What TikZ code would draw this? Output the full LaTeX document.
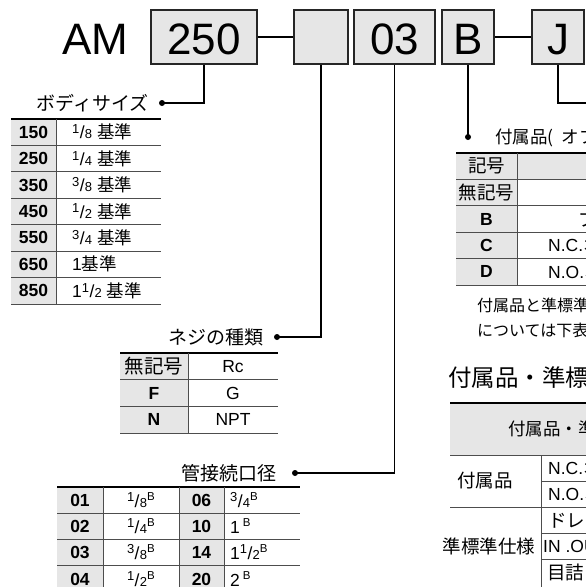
\documentclass[tikz,border=0pt]{standalone}
\usepackage{fontspec}
\setmainfont{Liberation Sans}
\newfontfamily\jp{Noto Sans CJK JP}
\usepackage{tikz}
\usetikzlibrary{calc}

\definecolor{cellgray}{HTML}{E6E6E6}
\definecolor{rulegray}{HTML}{4D4D4D}

% small fractions and the B (bore) mark
\newcommand{\fr}[2]{\raisebox{.3em}{\fontsize{13}{13}\selectfont #1}\kern.02em/\kern.02em{\fontsize{13}{13}\selectfont #2}}
\newcommand{\sB}{\raisebox{.37em}{\fontsize{11.5}{11.5}\selectfont B}}

\tikzset{
  codebox/.style={draw=black!85, line width=1.6pt, fill=cellgray, minimum height=54pt,
    inner sep=0pt, text height=35.5pt, text depth=0pt, font=\fontsize{44}{44}\selectfont},
  lead/.style={line width=1.8pt},
  ttl/.style={inner sep=0pt, font=\jp\fontsize{19}{19}\selectfont},
  cell/.style={inner sep=0pt, font=\fontsize{17.5}{17.5}\selectfont},
  key/.style={inner sep=0pt, font=\bfseries\fontsize{17.5}{17.5}\selectfont},
  jkey/.style={inner sep=0pt, font=\jp\fontsize{18.5}{18.5}\selectfont},
  toprule/.style={line width=2.2pt},
  midrule/.style={line width=.9pt, rulegray},
}

\begin{document}
\begin{tikzpicture}[x=1pt, y=-1pt]
\useasboundingbox (0,0) rectangle (586,587);
\clip (0,0) rectangle (586,587);

% model code
\node[inner sep=0pt, font=\fontsize{44}{44}\selectfont] (am) at (95.5,39) {AM};
\node[codebox, minimum width=106pt] (b250) at (204,37) {250};
\node[codebox, minimum width=54pt] (bblank) at (321,37) {};
\node[codebox, minimum width=81pt] (b03) at (394.5,37) {03};
\node[codebox, minimum width=52pt] (bB) at (468,37) {B};
\node[codebox, minimum width=52pt] (bJ) at (558,37) {J};
\draw[lead] (b250.east) -- (bblank.west);
\draw[lead] (bB.east) -- (bJ.west);

% leaders
\coordinate (dSize) at (162,103);
\coordinate (dThread) at (277,337);
\coordinate (dPort) at (295,473);
\coordinate (dAcc) at (468,137);
\coordinate (jEnd) at (600,103);
\draw[lead] (b250.south) |- (dSize);
\draw[lead] (bblank.south) |- (dThread);
\draw[lead] (b03.south) |- (dPort);
\draw[lead] (bB.south) -- (dAcc);
\draw[lead] (bJ.south) |- (jEnd);
\fill (dSize) circle [radius=3pt] (dThread) circle [radius=3pt]
  (dPort) circle [radius=3pt] (dAcc) circle [radius=3pt];

% body size
\node[ttl, anchor=east] (tSize) at ($(dSize)+(-13,0)$) {ボディサイズ};
\fill[cellgray] (11,119) rectangle (56,304);
\draw[toprule] (11,119) -- (161,119);
\draw[midrule] (11,145.4) -- (161,145.4) (11,171.8) -- (161,171.8) (11,198.2) -- (161,198.2)
  (11,224.6) -- (161,224.6) (11,251) -- (161,251) (11,277.4) -- (161,277.4) (11,304) -- (161,304)
  (56,119) -- (56,304);
\node[key] (s150) at (33.5,132.2) {150}; \node[cell, anchor=west] (s150v) at (72,132.2) {\fr18 {\jp 基準}};
\node[key] (s250) at (33.5,158.6) {250}; \node[cell, anchor=west] (s250v) at (72,158.6) {\fr14 {\jp 基準}};
\node[key] (s350) at (33.5,185) {350}; \node[cell, anchor=west] (s350v) at (72,185) {\fr38 {\jp 基準}};
\node[key] (s450) at (33.5,211.4) {450}; \node[cell, anchor=west] (s450v) at (72,211.4) {\fr12 {\jp 基準}};
\node[key] (s550) at (33.5,237.8) {550}; \node[cell, anchor=west] (s550v) at (72,237.8) {\fr34 {\jp 基準}};
\node[key] (s650) at (33.5,264.2) {650}; \node[cell, anchor=west] (s650v) at (72,264.2) {1{\jp 基準}};
\node[key] (s850) at (33.5,290.6) {850}; \node[cell, anchor=west] (s850v) at (72,290.6) {1\fr12 {\jp 基準}};

% thread type
\node[ttl, anchor=east] (tThread) at ($(dThread)+(-13,0)$) {ネジの種類};
\fill[cellgray] (120,353) rectangle (188,433);
\draw[toprule] (120,353) -- (278,353);
\draw[midrule] (120,379.7) -- (278,379.7) (120,406.3) -- (278,406.3) (120,433) -- (278,433)
  (188,353) -- (188,433);
\node[jkey, font=\jp\fontsize{19.5}{19.5}\selectfont] (tNone) at (154,366.3) {無記号}; \node[cell] (tRc) at (233,366.3) {Rc};
\node[key] (tF) at (154,393) {F}; \node[cell] (tG) at (233,393) {G};
\node[key] (tN) at (154,419.7) {N}; \node[cell] (tNPT) at (233,419.7) {NPT};

% port size
\node[ttl, anchor=east] (tPort) at ($(dPort)+(-18,0)$) {管接続口径};
\fill[cellgray] (57,487) rectangle (103,600) (179,487) rectangle (224,600);
\draw[toprule] (57,487) -- (300,487);
\draw[midrule] (57,513) -- (300,513) (57,539) -- (300,539) (57,565) -- (300,565)
  (103,487) -- (103,600) (179,487) -- (179,600) (224,487) -- (224,600);
\node[key] (p01) at (80,500) {01}; \node[cell] (p01v) at (141,500) {\fr18\sB};
\node[key] (p06) at (201.5,500) {06}; \node[cell, anchor=west] (p06v) at (230,500) {\fr34\sB};
\node[key] (p02) at (80,526) {02}; \node[cell] (p02v) at (141,526) {\fr14\sB};
\node[key] (p10) at (201.5,526) {10}; \node[cell, anchor=west] (p10v) at (230,526) {1\,\sB};
\node[key] (p03) at (80,552) {03}; \node[cell] (p03v) at (141,552) {\fr38\sB};
\node[key] (p14) at (201.5,552) {14}; \node[cell, anchor=west] (p14v) at (230,552) {1\fr12\sB};
\node[key] (p04) at (80,579) {04}; \node[cell] (p04v) at (141,579) {\fr12\sB};
\node[key] (p20) at (201.5,579) {20}; \node[cell, anchor=west] (p20v) at (230,579) {2\,\sB};

% accessories
\node[anchor=west, inner sep=0pt, font=\jp\fontsize{17.5}{17.5}\selectfont] (tAcc) at (495,138) {付属品(\hspace{8pt}オプション)};
\fill[cellgray] (456,153) rectangle (600,179.4) (456,179.4) rectangle (517,285);
\draw[toprule] (456,153) -- (600,153);
\draw[midrule] (456,179.4) -- (600,179.4) (456,205.8) -- (600,205.8) (456,232.2) -- (600,232.2)
  (456,258.6) -- (600,258.6) (456,285) -- (600,285) (517,153) -- (517,285);
\node[jkey] (aSym) at (486.5,166.2) {記号};
\node[jkey] (aNone) at (486.5,192.6) {無記号};
\node[key] (aB) at (486.5,219) {B}; \node[jkey, anchor=west] (aBv) at (578,219) {ブラケット};
\node[key] (aC) at (486.5,245.4) {C}; \node[cell, anchor=west] (aCv) at (548,245.4) {N.C.{\jp オートドレン}};
\node[key] (aD) at (486.5,271.8) {D}; \node[cell, anchor=west] (aDv) at (548,271.8) {N.O.{\jp オートドレン}};

% note
\node[anchor=west, inner sep=0pt, font=\jp\fontsize{16}{16}\selectfont] (note1) at (477,305) {付属品と準標準仕様の組合せ};
\node[anchor=west, inner sep=0pt, font=\jp\fontsize{16}{16}\selectfont] (note2) at (477,330) {については下表を参照ください。};

% combinations
\node[anchor=west, inner sep=0pt, font=\jp\fontsize{23.5}{23.5}\selectfont] (hCombo) at (448,378) {付属品・準標準仕様の組合せ};
\fill[cellgray] (450,403) rectangle (600,455);
\draw[toprule] (450,403) -- (600,403);
\draw[midrule] (450,455) -- (600,455) (541,481) -- (600,481) (450,507) -- (600,507)
  (541,533) -- (600,533) (541,559) -- (600,559) (541,455) -- (541,600);
\node[jkey, anchor=west, font=\jp\fontsize{17.5}{17.5}\selectfont] (cHead) at (508,429) {付属品・準標準仕様};
\node[jkey] (gAcc) at (485,481) {付属品};
\node[jkey] (gStd) at (489,546) {準標準仕様};
\node[cell, anchor=west] (cNC) at (548,468) {N.C.{\jp オートドレン}};
\node[cell, anchor=west] (cNO) at (548,494) {N.O.{\jp オートドレン}};
\node[jkey, anchor=west] (cDr) at (548,520) {ドレンガイド};
\node[cell, anchor=west] (cIO) at (543,546) {IN .OUT};
\node[jkey, anchor=west] (cCl) at (547,572) {目詰まり表示器};
\end{tikzpicture}
\end{document}
